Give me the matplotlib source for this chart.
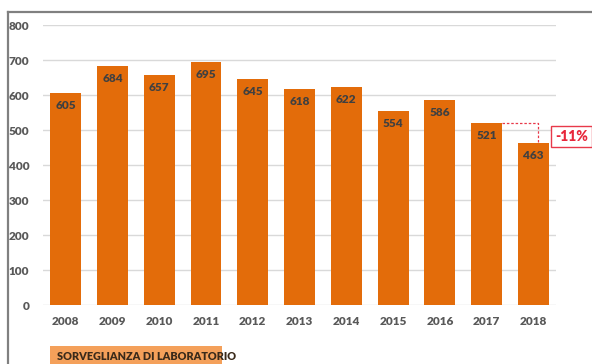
import matplotlib.pyplot as plt
from matplotlib.patches import Rectangle
from matplotlib.lines import Line2D

# dati annuali
anni = ['2008', '2009', '2010', '2011', '2012', '2013', '2014', '2015', '2016', '2017', '2018']
casi = [605, 684, 657, 695, 645, 618, 622, 554, 586, 521, 463]
variazione = '-11%'

arancio = '#E36C0A'
testo = '#404040'

plt.rcParams['font.family'] = ['Lato', 'DejaVu Sans']

fig = plt.figure(figsize=(5.92, 3.64), dpi=100)
ax = fig.add_axes([0.073, 0.162, 0.866, 0.769])

x = range(len(anni))
barre = ax.bar(x, casi, width=0.66, color=arancio, zorder=2)

# etichette dentro le barre
for xi, v in zip(x, casi):
    ax.annotate(str(v), (xi, v), xytext=(0, -9), textcoords='offset points',
                ha='center', va='center', fontsize=8.5, fontweight='heavy', color=testo)

ax.set_xlim(-0.48, 10.48)
ax.set_ylim(0, 800)
ax.set_yticks(range(0, 801, 100))
ax.set_xticks(list(x))
ax.set_xticklabels(anni)
ax.grid(axis='y', color='#D9D9D9', linewidth=1, zorder=0)
ax.set_axisbelow(True)
for s in ax.spines.values():
    s.set_visible(False)
ax.tick_params(length=0, labelsize=8.5, labelcolor='#595959', pad=8)
for lab in ax.get_xticklabels() + ax.get_yticklabels():
    lab.set_fontweight('heavy')
ax.tick_params(axis='y', pad=10)

# linea tratteggiata tra 2017 e 2018
x17 = 9 + 0.33
x18 = 10 + 0.09
ax.plot([x17, x18, x18], [casi[9], casi[9], casi[10]], color='#E8394A',
        linestyle=(0, (2, 1.5)), linewidth=0.9, zorder=3)

# riquadro della variazione
fig.text(571.5 / 592, 1 - 136.5 / 364, variazione, ha='center', va='center',
         fontsize=10, fontweight='heavy', color='#E8283C',
         bbox=dict(boxstyle='square,pad=0.3', facecolor='white',
                   edgecolor='#E8394A', linewidth=1))

# cornice esterna
fig.add_artist(Line2D([8 / 592, 1], [1 - 12 / 364, 1 - 12 / 364],
                      transform=fig.transFigure, color='#808080', linewidth=1.6))
fig.add_artist(Line2D([8 / 592, 8 / 592], [0, 1 - 12 / 364],
                      transform=fig.transFigure, color='#808080', linewidth=1.6))

# etichetta in basso
fig.add_artist(Rectangle((50 / 592, 0), 172 / 592, 18 / 364,
                         transform=fig.transFigure, facecolor='#F4A05A',
                         edgecolor='none'))
fig.text(57 / 592, 1 - 356 / 364, 'SORVEGLIANZA DI LABORATORIO', ha='left', va='center',
         fontsize=7.8, fontweight='heavy', color='#3A2A1A')

fig.savefig('out.png', dpi=100)
